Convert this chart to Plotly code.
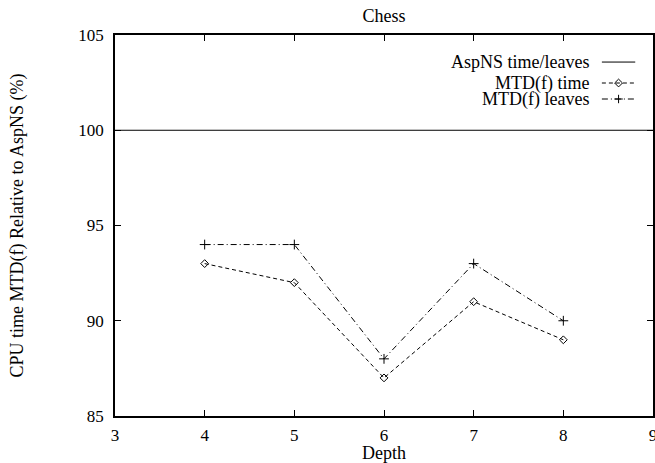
import plotly.graph_objects as go

depth = [4, 5, 6, 7, 8]
mtd_time = [93, 92, 87, 91, 89]
mtd_leaves = [94, 94, 88, 93, 90]
asp_x = [3, 9]
asp_y = [100, 100]
x_ticks = [3, 4, 5, 6, 7, 8, 9]
y_ticks = [85, 90, 95, 100, 105]

FONT = "Liberation Serif"
FS = 18
TFS = 17

fig = go.Figure()
fig.add_trace(go.Scatter(x=asp_x, y=asp_y, mode="lines",
                         line=dict(color="black", width=1), showlegend=False))
fig.add_trace(go.Scatter(x=depth, y=mtd_time, mode="lines+markers",
                         line=dict(color="black", width=1, dash="4px,3px"),
                         marker=dict(symbol="diamond-open", size=6, color="black", line=dict(width=1)),
                         showlegend=False))
fig.add_trace(go.Scatter(x=depth, y=mtd_leaves, mode="lines+markers",
                         line=dict(color="black", width=1, dash="6px,3px,1px,3px"),
                         marker=dict(symbol="cross-thin-open", size=7, color="black", line=dict(width=1)),
                         showlegend=False))

# manual gnuplot-style legend (text on left, sample on right)
legend_items = [("AspNS time/leaves", "solid", None),
                ("MTD(f) time", "4px,3px", "diamond-open"),
                ("MTD(f) leaves", "6px,3px,1px,3px", "cross-thin-open")]
ys = [0.929, 0.874, 0.832]
for (label, dash, sym), yy in zip(legend_items, ys):
    fig.add_annotation(x=0.885, y=yy, xref="paper", yref="paper", text=label,
                       showarrow=False, xanchor="right", yanchor="middle",
                       font=dict(family=FONT, size=FS, color="black"))
    fig.add_shape(type="line", xref="paper", yref="paper", x0=0.905, x1=0.967, y0=yy, y1=yy,
                  line=dict(color="black", width=1, dash=dash))
    if sym:
        fig.add_trace(go.Scatter(x=[0.936], y=[yy], xaxis="x2", yaxis="y2", mode="markers",
                                 marker=dict(symbol=sym, size=6, color="black", line=dict(width=1)),
                                 showlegend=False, hoverinfo="skip"))

axis_common = dict(showgrid=False, zeroline=False, showline=True, linecolor="black", linewidth=1.5,
                   mirror="allticks", ticks="inside", ticklen=6, tickcolor="black", tickwidth=1,
                   automargin=False, ticklabeloverflow="allow",
                   tickfont=dict(family=FONT, size=TFS, color="black"))
fig.update_layout(
    width=655, height=463,
    margin=dict(l=115, r=2, t=35, b=47, autoexpand=False),
    paper_bgcolor="white", plot_bgcolor="white",
    title=dict(text="Chess", xref="paper", x=0.5, xanchor="center", y=0.966, yanchor="middle",
               font=dict(family=FONT, size=FS, color="black")),
    xaxis=dict(range=[3, 9], tickvals=x_ticks, ticklabelstandoff=3,
               title=dict(text="Depth", font=dict(family=FONT, size=FS, color="black"), standoff=2),
               **axis_common),
    yaxis=dict(range=[85, 105], tickvals=y_ticks, ticklabelstandoff=6,
               title=dict(text="CPU time MTD(f) Relative to AspNS (%)",
                          font=dict(family=FONT, size=FS, color="black"), standoff=50),
               **axis_common),
    xaxis2=dict(range=[0, 1], overlaying="x", visible=False, domain=[0, 1]),
    yaxis2=dict(range=[0, 1], overlaying="y", visible=False),
    showlegend=False,
)

# remove the default 8px page margin so the figure fills the window exactly
fig.write_html("out.html", config={"displayModeBar": False},
               post_script="document.body.style.margin='0';document.body.style.overflow='hidden';")
